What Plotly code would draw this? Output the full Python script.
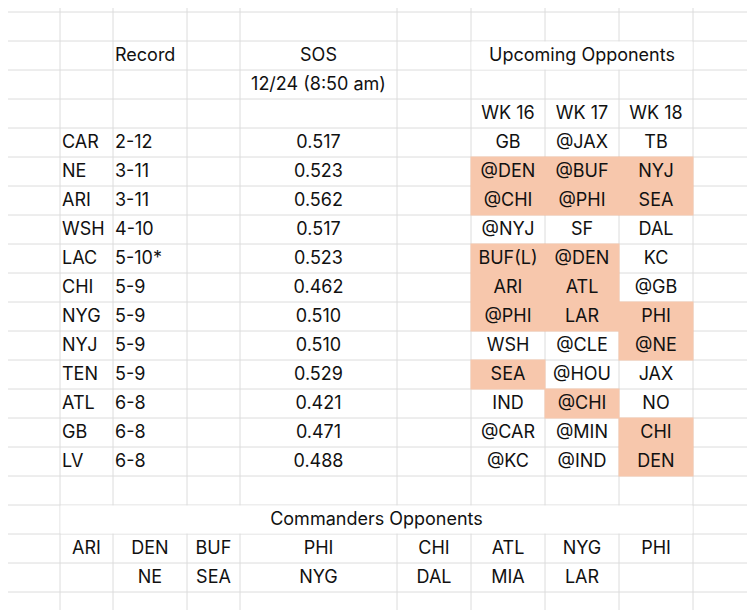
import plotly.graph_objects as go

# spreadsheet data
teams = ["CAR", "NE", "ARI", "WSH", "LAC", "CHI", "NYG", "NYJ", "TEN", "ATL", "GB", "LV"]
records = ["2-12", "3-11", "3-11", "4-10", "5-10*", "5-9", "5-9", "5-9", "5-9", "6-8", "6-8", "6-8"]
sos = [0.517, 0.523, 0.562, 0.517, 0.523, 0.462, 0.510, 0.510, 0.529, 0.421, 0.471, 0.488]
weeks = ["WK 16", "WK 17", "WK 18"]
wk16 = ["GB", "@DEN", "@CHI", "@NYJ", "BUF(L)", "ARI", "@PHI", "WSH", "SEA", "IND", "@CAR", "@KC"]
wk17 = ["@JAX", "@BUF", "@PHI", "SF", "@DEN", "ATL", "LAR", "@CLE", "@HOU", "@CHI", "@MIN", "@IND"]
wk18 = ["TB", "NYJ", "SEA", "DAL", "KC", "@GB", "PHI", "@NE", "JAX", "NO", "CHI", "DEN"]
# 1 = highlighted cell
hl16 = [0, 1, 1, 0, 1, 1, 1, 0, 1, 0, 0, 0]
hl17 = [0, 1, 1, 0, 1, 1, 1, 0, 0, 1, 0, 0]
hl18 = [0, 1, 1, 0, 0, 0, 1, 1, 0, 0, 1, 1]
cmd_row1 = ["ARI", "DEN", "BUF", "PHI", "CHI", "ATL", "NYG", "PHI"]
cmd_row2 = ["", "NE", "SEA", "NYG", "DAL", "MIA", "LAR", ""]

# sheet geometry (pixels)
col_edges = [0, 60, 113, 187, 240, 397, 471, 545, 619, 693, 755]
row_top, row_h = 12, 29
grid = "#DCDCDC"
fill = "#F7C7AC"
font = dict(family="Inter, Lato, sans-serif", size=18, color="#111111")
off = 8  # page body margin


def cx(c):
    return (col_edges[c] + col_edges[c + 1]) / 2


def cy(r):
    return row_top + row_h * r + row_h / 2 + 1


def rect(c0, c1, r0, r1, color):
    return dict(type="rect", layer="below", line_width=0, fillcolor=color,
                x0=col_edges[c0] + 0.5, x1=col_edges[c1] - 0.5,
                y0=row_top + row_h * r0 + 0.5, y1=row_top + row_h * r1 - 0.5)


shapes = []
for x in col_edges[1:-1]:
    shapes.append(dict(type="line", layer="below", x0=x, x1=x, y0=0, y1=630, line=dict(color=grid, width=1)))
y = row_top
while y < 630:
    shapes.append(dict(type="line", layer="below", x0=0, x1=775, y0=y, y1=y, line=dict(color=grid, width=1)))
    y += row_h

# merged cells
shapes.append(rect(6, 9, 1, 2, "white"))
shapes.append(rect(1, 9, 17, 18, "white"))

for i in range(len(teams)):
    for c, hl in ((6, hl16), (7, hl17), (8, hl18)):
        if hl[i]:
            s = rect(c, c + 1, 4 + i, 5 + i, fill)
            s["x0"] -= 1
            s["x1"] += 1
            s["y0"] -= 1
            s["y1"] += 1
            shapes.append(s)

fig = go.Figure()


def add_text(xs, ys, texts, pos="middle center"):
    fig.add_trace(go.Scatter(x=xs, y=ys, text=texts, mode="text", textposition=pos,
                             textfont=font, hoverinfo="skip", showlegend=False))


rows = [4 + i for i in range(len(teams))]
add_text([col_edges[1] + 2] * len(teams), [cy(r) for r in rows], teams, "middle right")
add_text([col_edges[2] + 2] * len(teams), [cy(r) for r in rows], records, "middle right")
add_text([cx(4)] * len(teams), [cy(r) for r in rows], [f"{v:.3f}" for v in sos])
for c, col in ((6, wk16), (7, wk17), (8, wk18)):
    add_text([cx(c)] * len(col), [cy(r) for r in rows], col)

add_text([col_edges[2] + 2], [cy(1)], ["Record"], "middle right")
add_text([cx(4)], [cy(1)], ["SOS"])
add_text([cx(4)], [cy(2)], ["12/24 (8:50 am)"])
add_text([(col_edges[6] + col_edges[9]) / 2], [cy(1)], ["Upcoming Opponents"])
add_text([cx(c) for c in (6, 7, 8)], [cy(3)] * 3, weeks)
add_text([(col_edges[1] + col_edges[9]) / 2], [cy(17)], ["Commanders Opponents"])
add_text([cx(c) for c in range(1, 9)], [cy(18)] * 8, cmd_row1)
add_text([cx(c) for c in range(1, 9)], [cy(19)] * 8, cmd_row2)

fig.update_layout(
    width=755, height=610, margin=dict(l=0, r=0, t=0, b=0),
    plot_bgcolor="white", paper_bgcolor="white", shapes=shapes,
    xaxis=dict(range=[off, 755 + off], visible=False, fixedrange=True),
    yaxis=dict(range=[610 + off, off], visible=False, fixedrange=True),
)
fig.write_html("out.html")
